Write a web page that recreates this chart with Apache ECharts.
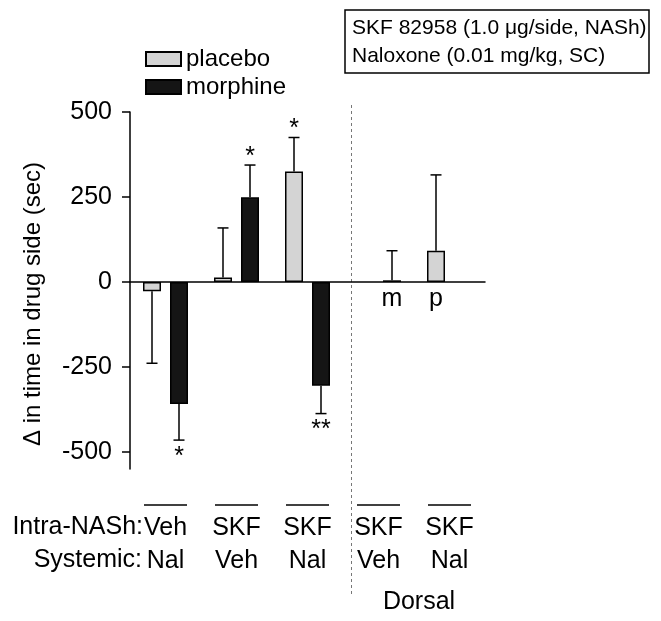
<!DOCTYPE html>
<html>
<head>
<meta charset="utf-8">
<script src="https://cdn.jsdelivr.net/npm/echarts@6/dist/echarts.min.js"></script>
<style>
html,body{margin:0;padding:0;background:#fff;}
#chart{width:661px;height:621px;}
</style>
</head>
<body>
<div id="chart"></div>
<script>
// ---- data ----
var intraNASh = ['Veh', 'SKF', 'SKF', 'SKF', 'SKF'];
var systemic = ['Nal', 'Veh', 'Nal', 'Veh', 'Nal'];
var placebo = [-27, 13, 325, null, 92];
var morphine = [-359, 249, -305, 5, null];
var placeboErr = [212, 146, 100, null, 223];
var morphineErr = [106, 95, 82, 87, null];
var placeboStars = ['', '', '*', '', ''];
var morphineStars = ['*', '*', '**', '', ''];
var placeboLetters = ['', '', '', '', 'p'];
var morphineLetters = ['', '', '', 'm', ''];
var yTicks = [-500, -250, 0, 250, 500];
var seriesNames = ['placebo', 'morphine'];
var boxLines = ['SKF 82958 (1.0 \u03bcg/side, NASh)', 'Naloxone (0.01 mg/kg, SC)'];
var yTitle = '\u0394 in time in drug side (sec)';
var rowTitles = ['Intra-NASh:', 'Systemic:'];
var regionLabel = 'Dorsal';

var categories = intraNASh.map(function (a, i) { return a + '\n' + systemic[i]; });
var FONT = 'Liberation Sans, Arial, Helvetica, sans-serif';
var BAR_OFFSET = 13.5;

function errSeries(name, values, errs, stars, letters, side) {
  var data = values.map(function (v, i) {
    return [i, v == null ? 0 : v, errs[i] == null ? 0 : errs[i], v == null ? 0 : 1];
  });
  return {
    type: 'custom',
    name: name + '-err',
    xAxisIndex: 0,
    yAxisIndex: 0,
    silent: true,
    z: 5,
    data: data,
    renderItem: function (params, api) {
      var i = api.value(0);
      var v = api.value(1);
      var e = api.value(2);
      var has = api.value(3);
      if (!has) return null;
      var dir = v >= 0 ? 1 : -1;
      var base = api.coord([i, v]);
      var end = api.coord([i, v + dir * e]);
      var zero = api.coord([i, 0]);
      var x = base[0] + side * BAR_OFFSET;
      var children = [];
      if (e) {
        children.push({ type: 'line', shape: { x1: x, y1: base[1], x2: x, y2: end[1] },
          style: { stroke: '#000', lineWidth: 1.5 } });
        children.push({ type: 'line', shape: { x1: x - 5.5, y1: end[1], x2: x + 5.5, y2: end[1] },
          style: { stroke: '#000', lineWidth: 1.5 } });
      }
      var s = stars[i];
      if (s) {
        children.push({ type: 'text', style: { text: s, x: x, y: dir > 0 ? end[1] - 8 : end[1] + 17,
          align: 'center', verticalAlign: 'middle', font: '25px ' + FONT, fill: '#000' } });
      }
      var l = letters[i];
      if (l) {
        children.push({ type: 'text', style: { text: l, x: x, y: zero[1] + 17,
          align: 'center', verticalAlign: 'middle', font: '25px ' + FONT, fill: '#000' } });
      }
      return { type: 'group', children: children };
    }
  };
}

var chart = echarts.init(document.getElementById('chart'), null, { renderer: 'canvas' });

var option = {
  animation: false,
  backgroundColor: '#fff',
  textStyle: { fontFamily: FONT },
  grid: { left: 130, right: 176, top: 112, bottom: 152, containLabel: false },
  legend: {
    data: seriesNames,
    orient: 'vertical',
    left: 145,
    top: 47,
    padding: 0,
    icon: 'rect',
    itemWidth: 35,
    itemHeight: 14,
    itemGap: 4,
    textStyle: { fontSize: 24, color: '#000', fontFamily: FONT },
    selectedMode: false
  },
  xAxis: [{
    type: 'category',
    data: categories,
    axisLine: { onZero: true, lineStyle: { color: '#000', width: 1.5 } },
    axisTick: { show: false },
    axisLabel: { show: false },
    splitLine: { show: false }
  }, {
    type: 'category',
    data: categories,
    position: 'bottom',
    axisLine: { show: false, onZero: false },
    axisTick: { show: false },
    axisLabel: { show: true, margin: 43, fontSize: 25, lineHeight: 33, color: '#000', fontFamily: FONT },
    splitLine: { show: false }
  }],
  yAxis: {
    type: 'value',
    min: -550,
    max: 500,
    axisLine: { show: true, lineStyle: { color: '#000', width: 1.5 } },
    axisTick: { show: true, inside: false, length: 8, lineStyle: { color: '#000', width: 1.5 }, customValues: yTicks },
    axisLabel: { show: true, margin: 18, fontSize: 25, color: '#000', fontFamily: FONT, customValues: yTicks },
    splitLine: { show: false }
  },
  series: [{
    type: 'bar',
    name: seriesNames[0],
    xAxisIndex: 0,
    data: placebo.map(function (v) { return v == null ? '-' : v; }),
    barWidth: 18,
    barGap: '50%',
    itemStyle: { color: '#d4d4d4', borderColor: '#000', borderWidth: 1.5 },
    z: 3
  }, {
    type: 'bar',
    name: seriesNames[1],
    xAxisIndex: 0,
    data: morphine.map(function (v) { return v == null ? '-' : v; }),
    barWidth: 18,
    barGap: '50%',
    itemStyle: { color: '#151515', borderColor: '#000', borderWidth: 1.5 },
    z: 3
  },
  errSeries('placebo', placebo, placeboErr, placeboStars, placeboLetters, -1),
  errSeries('morphine', morphine, morphineErr, morphineStars, morphineLetters, 1)
  ]
};
chart.setOption(option);

// extra annotations
var graphics = [];
categories.forEach(function (c, i) {
  var px = chart.convertToPixel({ xAxisIndex: 0 }, i);
  graphics.push({ type: 'line', shape: { x1: px - 21.5, y1: 505, x2: px + 21.5, y2: 505 },
    style: { stroke: '#000', lineWidth: 1.5 }, silent: true });
});
graphics.push({ type: 'text', style: { text: rowTitles[0], x: 143, y: 527, align: 'right', verticalAlign: 'middle',
  font: '25px ' + FONT, fill: '#000' } });
graphics.push({ type: 'text', style: { text: rowTitles[1], x: 142, y: 560, align: 'right', verticalAlign: 'middle',
  font: '25px ' + FONT, fill: '#000' } });
var d1 = chart.convertToPixel({ xAxisIndex: 0 }, 3);
var d2 = chart.convertToPixel({ xAxisIndex: 0 }, 4);
graphics.push({ type: 'text', style: { text: regionLabel, x: (d1 + d2) / 2 + 5, y: 602, align: 'center', verticalAlign: 'middle',
  font: '25px ' + FONT, fill: '#000' } });
graphics.push({ type: 'line', shape: { x1: 351.5, y1: 105, x2: 351.5, y2: 597 },
  style: { stroke: '#777', lineWidth: 1, lineDash: [3, 3] }, silent: true });
graphics.push({ type: 'text', rotation: Math.PI / 2, x: 33, y: 304,
  style: { text: yTitle, x: 0, y: 0, align: 'center', verticalAlign: 'middle', font: '24px ' + FONT, fill: '#000' } });
graphics.push({ type: 'rect', shape: { x: 345, y: 10, width: 304, height: 63 },
  style: { fill: '#fff', stroke: '#000', lineWidth: 1.5 } });
graphics.push({ type: 'text', style: { text: boxLines[0], x: 352, y: 28, align: 'left', verticalAlign: 'middle',
  font: '21px ' + FONT, fill: '#000' } });
graphics.push({ type: 'text', style: { text: boxLines[1], x: 352, y: 56, align: 'left', verticalAlign: 'middle',
  font: '21px ' + FONT, fill: '#000' } });
chart.setOption({ graphic: graphics });
</script>
</body>
</html>
